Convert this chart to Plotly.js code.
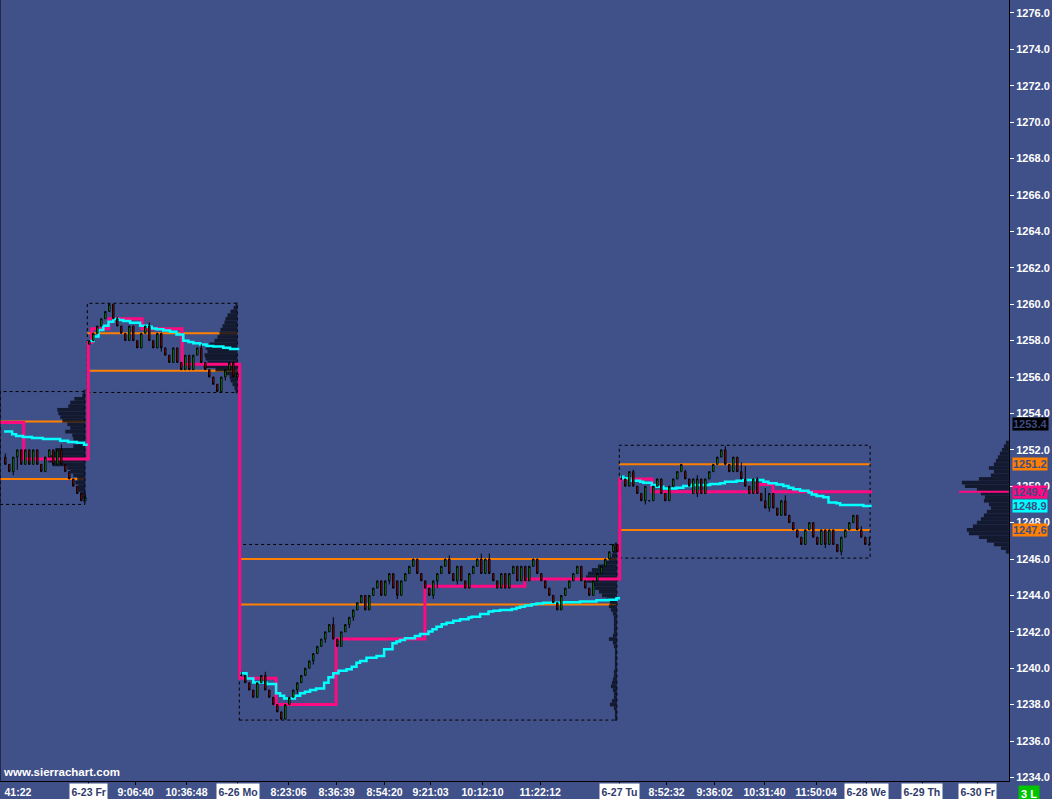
<!DOCTYPE html>
<html><head><meta charset="utf-8">
<script src="https://cdn.plot.ly/plotly-3.0.1.min.js"></script>
<style>html,body{margin:0;padding:0;background:#405088;}#chart{width:1052px;height:799px;}</style>
</head><body><div id="chart"></div>
<script>
// ---- candles [open, high, low, close] per session ----
const ohlc0622 = [
 [1251.6,1251.8,1251.2,1251.2],[1251.2,1251.2,1250.8,1250.8],[1250.8,1251.6,1250.6,1251.6],[1251.6,1252.0,1250.9,1252.0],
 [1252.0,1252.0,1251.2,1251.2],[1251.2,1252.0,1251.2,1252.0],[1252.0,1252.0,1251.2,1251.2],[1251.2,1252.0,1251.2,1252.0],
 [1252.0,1252.0,1251.2,1251.2],[1251.2,1251.2,1250.8,1250.8],[1250.8,1251.6,1250.8,1251.6],[1251.6,1252.0,1251.6,1252.0],
 [1252.0,1252.0,1251.2,1251.2],[1251.2,1252.0,1251.2,1252.0],[1252.0,1252.3,1251.2,1251.2],[1251.2,1251.2,1250.8,1250.8],
 [1250.8,1250.8,1250.4,1250.4],[1250.4,1250.4,1250.0,1250.0],[1250.0,1250.0,1249.6,1249.6],[1249.6,1249.6,1249.2,1249.2],
 [1249.2,1249.6,1249.2,1249.4]
];
const ohlc0623 = [
 [1257.8,1258.0,1257.8,1258.0],[1258.0,1258.4,1258.0,1258.4],[1258.4,1258.8,1258.4,1258.8],[1258.8,1259.2,1258.8,1259.2],
 [1259.2,1259.6,1259.2,1259.6],[1259.6,1260.0,1259.6,1260.0],[1260.0,1260.0,1259.2,1259.2],[1259.2,1259.3,1258.8,1258.8],
 [1258.8,1258.8,1258.4,1258.4],[1258.4,1258.4,1258.0,1258.0],[1258.0,1258.8,1258.0,1258.8],[1258.8,1258.8,1258.0,1258.0],
 [1258.0,1258.0,1257.6,1257.6],[1257.6,1258.4,1257.6,1258.4],[1258.4,1258.8,1258.4,1258.8],[1258.8,1259.0,1258.0,1258.0],
 [1258.0,1258.0,1257.6,1257.6],[1257.6,1258.4,1257.6,1258.4],[1258.4,1258.4,1257.4,1257.6],[1257.6,1257.6,1257.2,1257.2],
 [1257.2,1257.2,1256.8,1256.8],[1256.8,1257.6,1256.8,1257.6],[1257.6,1257.6,1256.8,1256.8],[1256.8,1256.8,1256.4,1256.4],
 [1256.4,1257.2,1256.4,1257.2],[1257.2,1257.2,1256.4,1256.4],[1256.4,1257.2,1256.4,1257.2],[1257.2,1257.6,1257.2,1257.6],
 [1257.6,1257.8,1256.8,1256.8],[1256.8,1256.8,1256.4,1256.4],[1256.4,1256.4,1256.0,1256.0],[1256.0,1256.0,1255.6,1255.6],
 [1255.6,1255.6,1255.2,1255.2],[1255.2,1256.0,1255.2,1256.0],[1256.0,1256.4,1255.8,1256.4],[1256.4,1256.8,1256.4,1256.8],
 [1256.8,1256.8,1256.0,1256.0],[1256.0,1256.2,1256.0,1256.2]
];
const ohlc0626 = [
 [1239.6,1239.8,1239.6,1239.6],[1239.6,1239.6,1239.2,1239.2],[1239.2,1239.2,1238.8,1238.8],[1238.8,1238.8,1238.4,1238.4],
 [1238.4,1239.2,1238.4,1239.2],[1239.2,1239.6,1239.2,1239.6],[1239.6,1239.8,1238.8,1238.8],[1238.8,1238.8,1238.4,1238.4],
 [1238.4,1238.4,1238.0,1238.0],[1238.0,1238.0,1237.6,1237.6],[1237.6,1237.6,1237.2,1237.2],[1237.2,1238.0,1237.2,1238.0],
 [1238.0,1238.4,1238.0,1238.4],[1238.4,1238.8,1238.4,1238.8],[1238.8,1239.2,1238.6,1239.2],[1239.2,1239.6,1239.2,1239.6],
 [1239.6,1240.0,1239.6,1240.0],[1240.0,1240.4,1240.0,1240.4],[1240.4,1240.8,1240.2,1240.8],[1240.8,1241.2,1240.8,1241.2],
 [1241.2,1241.6,1241.2,1241.6],[1241.6,1242.0,1241.4,1242.0],[1242.0,1242.4,1242.0,1242.4],[1242.4,1242.8,1241.6,1241.6],
 [1241.6,1241.6,1241.2,1241.2],[1241.2,1242.0,1241.2,1242.0],[1242.0,1242.4,1242.0,1242.4],[1242.4,1242.8,1242.2,1242.8],
 [1242.8,1243.2,1242.6,1243.2],[1243.2,1243.6,1243.2,1243.6],[1243.6,1244.0,1243.6,1244.0],[1244.0,1244.0,1243.2,1243.2],
 [1243.2,1244.0,1243.2,1244.0],[1244.0,1244.4,1244.0,1244.4],[1244.4,1244.8,1244.4,1244.8],[1244.8,1244.8,1244.0,1244.0],
 [1244.0,1244.8,1244.0,1244.8],[1244.8,1245.2,1244.6,1245.2],[1245.2,1245.2,1244.4,1244.4],[1244.8,1244.8,1243.8,1244.0],
 [1244.0,1244.8,1244.0,1244.8],[1244.8,1245.2,1244.8,1245.2],[1245.2,1245.6,1245.2,1245.6],[1245.6,1246.0,1245.6,1246.0],
 [1246.0,1246.0,1245.2,1245.2],[1245.2,1245.2,1244.8,1244.8],[1244.8,1244.8,1244.4,1244.4],[1244.4,1244.4,1244.0,1244.0],
 [1244.0,1244.8,1243.8,1244.8],[1244.8,1245.2,1244.4,1245.2],[1245.2,1245.6,1245.2,1245.6],[1245.6,1246.0,1245.6,1246.0],
 [1246.0,1246.2,1245.2,1245.2],[1245.2,1245.2,1244.8,1244.8],[1244.8,1245.6,1244.6,1245.6],[1245.6,1245.6,1244.8,1244.8],
 [1244.8,1244.8,1244.4,1244.4],[1244.4,1245.2,1244.4,1245.2],[1245.2,1245.6,1245.2,1245.6],[1245.6,1246.0,1245.6,1246.0],
 [1246.0,1246.3,1245.2,1245.2],[1245.2,1246.0,1245.2,1246.0],[1246.0,1246.3,1245.2,1245.2],[1245.2,1245.2,1244.8,1244.8],
 [1244.8,1244.8,1244.4,1244.4],[1244.4,1245.2,1244.4,1245.2],[1245.2,1245.2,1244.4,1244.4],[1244.4,1245.2,1244.4,1245.2],
 [1245.2,1245.6,1245.2,1245.6],[1245.6,1245.6,1244.8,1244.8],[1244.8,1245.6,1244.8,1245.6],[1245.6,1245.6,1244.8,1244.8],
 [1244.8,1245.6,1244.8,1245.6],[1245.6,1246.0,1245.6,1246.0],[1246.0,1246.0,1245.2,1245.2],[1245.2,1245.2,1244.8,1244.8],
 [1244.8,1244.8,1244.4,1244.4],[1244.4,1244.4,1244.0,1244.0],[1244.0,1244.0,1243.6,1243.6],[1243.6,1243.6,1243.2,1243.2],
 [1243.2,1244.0,1243.2,1244.0],[1244.0,1244.4,1244.0,1244.4],[1244.4,1244.8,1244.4,1244.8],[1244.8,1245.2,1244.8,1245.2],
 [1245.2,1245.6,1245.2,1245.6],[1245.6,1245.6,1244.8,1244.8],[1244.8,1244.8,1244.4,1244.4],[1244.4,1244.4,1244.0,1244.0],
 [1244.0,1244.8,1244.0,1244.8],[1244.8,1245.2,1244.8,1245.2],[1245.2,1245.6,1245.2,1245.6],[1245.6,1246.0,1245.6,1246.0],
 [1246.0,1246.4,1246.0,1246.4],[1246.4,1246.8,1246.4,1246.8],[1246.8,1246.8,1246.4,1246.4]
];
const ohlc0627 = [
 [1250.4,1250.6,1250.4,1250.4],[1250.4,1250.4,1250.0,1250.0],[1250.0,1250.8,1250.0,1250.8],[1250.8,1250.9,1250.0,1250.0],
 [1250.0,1250.0,1249.6,1249.6],[1249.6,1249.6,1249.2,1249.2],[1249.2,1250.0,1249.0,1250.0],[1249.2,1249.2,1249.2,1249.2],
 [1249.2,1250.0,1249.2,1250.0],[1250.0,1250.4,1250.0,1250.4],[1250.4,1250.4,1249.6,1249.6],[1249.6,1249.6,1249.2,1249.2],
 [1249.2,1250.0,1249.2,1250.0],[1250.0,1250.4,1250.0,1250.4],[1250.4,1250.8,1250.4,1250.8],[1250.8,1251.2,1250.8,1251.2],
 [1250.8,1250.9,1250.4,1250.4],[1250.4,1250.4,1250.0,1250.0],[1249.6,1250.4,1249.6,1250.4],[1249.6,1250.6,1249.4,1250.4],
 [1250.4,1250.4,1249.6,1249.6],[1249.6,1250.4,1249.6,1250.4],[1250.4,1250.8,1250.4,1250.8],[1250.8,1251.2,1250.8,1251.2],
 [1251.2,1251.6,1251.2,1251.6],[1251.6,1252.0,1251.6,1252.0],[1252.0,1252.2,1251.2,1251.2],[1251.2,1251.2,1250.8,1250.8],
 [1250.8,1251.6,1250.8,1251.6],[1251.6,1251.6,1250.8,1250.8],[1250.8,1251.3,1250.4,1250.4],[1250.4,1251.1,1250.0,1250.0],
 [1250.0,1250.0,1249.6,1249.6],[1249.6,1250.4,1249.6,1250.4],[1250.4,1250.5,1249.6,1249.6],[1249.6,1249.6,1249.2,1249.2],
 [1249.2,1249.9,1248.8,1248.8],[1248.8,1249.6,1248.6,1249.6],[1249.6,1249.6,1248.8,1248.8],[1248.8,1248.8,1248.4,1248.4],
 [1248.4,1249.2,1248.4,1249.2],[1249.2,1249.5,1248.4,1248.4],[1248.4,1248.4,1248.0,1248.0],[1248.0,1248.0,1247.6,1247.6],
 [1247.6,1247.6,1247.2,1247.2],[1247.2,1247.2,1246.8,1246.8],[1246.8,1247.6,1246.8,1247.6],[1247.6,1248.0,1247.6,1248.0],
 [1248.0,1248.0,1247.2,1247.2],[1247.2,1247.2,1246.8,1246.8],[1246.8,1247.6,1246.8,1247.6],[1247.6,1247.6,1246.6,1246.8],
 [1246.8,1247.6,1246.8,1247.6],[1247.6,1247.6,1246.8,1246.8],[1246.8,1246.8,1246.4,1246.4],[1246.4,1247.2,1246.2,1247.2],
 [1247.2,1247.6,1247.2,1247.6],[1247.6,1248.0,1247.6,1248.0],[1248.0,1248.4,1248.0,1248.4],[1248.4,1248.4,1247.6,1247.6],
 [1247.6,1247.8,1247.2,1247.2],[1247.2,1247.2,1246.8,1246.8],[1246.8,1247.2,1246.7,1246.8]
];
const sessionFirstBar = [1, 22, 60, 155];

// ---- session ranges and value areas ----
const sessionStart = [-0.3, 21.5, 59.5, 154.5];
const sessionEnd   = [20.9, 59.0, 153.9, 217.2];
const sessionHigh  = [1255.2, 1260.05, 1246.8, 1252.25];
const sessionLow   = [1249.0, 1255.15, 1237.15, 1246.05];
const vaHigh = [1253.55, 1258.4, 1246.0, 1251.2];
const vaLow  = [1250.4, 1256.35, 1243.5, 1247.6];

// ---- POC (pink) step line ----
const pocX = [-0.3, 5.6, 21.75, 22.6, 26.9, 35.2, 45.2, 59.6, 68.7, 83.7, 105.9, 130.9, 154.6, 162.7, 189.2, 192.9, 217.7];
const pocY = [1253.5, 1251.5, 1257.9, 1258.65, 1259.2, 1258.65, 1256.7, 1239.45, 1238.0, 1241.6, 1244.5, 1244.9, 1250.4, 1249.7, 1250.1, 1249.7, 1249.7];

// ---- VWAP (cyan) per session ----
const vwapX0622 = [0.7, 2.7, 3.7, 5.4, 7.7, 10.4, 14.7, 16.7, 18.9, 20.7, 21.6];
const vwapY0622 = [1253.0, 1252.85, 1252.76, 1252.7, 1252.65, 1252.6, 1252.5, 1252.43, 1252.39, 1252.28, 1252.28];
const vwapX0623 = [22.0, 23.0, 24.3, 25.5, 26.8, 28.0, 29.3, 30.5, 32.2, 34.7, 36.4, 37.6, 38.8, 40.5, 42.2, 43.8, 45.5, 46.8, 48.0, 49.7, 51.3, 53.0, 55.5, 57.2, 59.5];
const vwapY0623 = [1257.98, 1258.22, 1258.58, 1258.82, 1259.04, 1259.19, 1259.13, 1259.08, 1258.98, 1258.82, 1258.76, 1258.67, 1258.62, 1258.56, 1258.49, 1258.34, 1257.99, 1257.92, 1257.85, 1257.78, 1257.70, 1257.67, 1257.61, 1257.54, 1257.54];
const vwapX0626 = [59.7, 61.3, 63.0, 66.3, 68.7, 69.7, 70.7, 73.4, 74.7, 75.9, 77.2, 78.7, 80.7, 81.8, 83.0, 84.3, 86.3, 87.6, 88.8, 89.7, 91.3, 93.8, 95.7, 97.8, 98.8, 99.7, 100.9, 103.4, 104.7, 106.8, 107.8, 108.8, 110.1, 111.3, 113.0, 114.7, 116.8, 117.6, 119.7, 121.8, 123.0, 124.7, 127.6, 128.8, 129.7, 130.9, 132.6, 133.8, 135.5, 140.5, 144.7, 148.8, 151.8, 153.8, 154.7];
const vwapY0626 = [1239.72, 1239.44, 1239.22, 1239.13, 1238.62, 1238.49, 1238.34, 1238.49, 1238.62, 1238.71, 1238.80, 1238.89, 1239.20, 1239.50, 1239.72, 1239.86, 1239.94, 1240.08, 1240.30, 1240.39, 1240.58, 1240.67, 1241.04, 1241.37, 1241.46, 1241.55, 1241.64, 1241.77, 1241.88, 1242.01, 1242.14, 1242.28, 1242.41, 1242.50, 1242.61, 1242.69, 1242.79, 1242.83, 1242.98, 1243.11, 1243.16, 1243.20, 1243.25, 1243.32, 1243.38, 1243.45, 1243.51, 1243.56, 1243.60, 1243.62, 1243.67, 1243.73, 1243.76, 1243.84, 1243.84];
const vwapX0627 = [154.7, 155.5, 157.2, 159.7, 160.5, 162.6, 163.8, 165.5, 168.8, 170.5, 172.6, 177.2, 179.7, 180.9, 183.8, 185.5, 190.5, 191.8, 193.8, 195.5, 196.8, 198.0, 199.7, 201.8, 202.6, 203.8, 205.5, 206.8, 208.8, 209.7, 215.5, 217.6];
const vwapY0627 = [1250.52, 1250.43, 1250.30, 1250.25, 1250.19, 1250.07, 1249.97, 1249.88, 1249.92, 1250.01, 1250.07, 1250.12, 1250.16, 1250.25, 1250.30, 1250.34, 1250.25, 1250.16, 1250.10, 1250.01, 1249.92, 1249.83, 1249.75, 1249.66, 1249.55, 1249.46, 1249.39, 1249.11, 1249.06, 1248.97, 1248.91, 1248.91];

// ---- volume profiles [price, volume] ----
const prof0622 = [[1255.2,2],[1255.0,3],[1254.8,11],[1254.6,15],[1254.4,17],[1254.2,28],[1254.0,27],[1253.8,25],[1253.6,23],[1253.4,18],[1253.2,15],[1253.0,20],[1252.8,13],[1252.6,12],[1252.4,8],[1252.2,12],[1252.0,30],[1251.8,32],[1251.6,35],[1251.4,37],[1251.2,33],[1251.0,18],[1250.8,15],[1250.6,12],[1250.4,8],[1250.2,10],[1250.0,7],[1249.8,7],[1249.6,5],[1249.4,3],[1249.2,2]];
const prof0623 = [[1260.0,2],[1259.8,4],[1259.6,7],[1259.4,10],[1259.2,12],[1259.0,13],[1258.8,15],[1258.6,17],[1258.4,18],[1258.2,20],[1258.0,23],[1257.8,28],[1257.6,32],[1257.4,30],[1257.2,33],[1257.0,32],[1256.8,30],[1256.6,34],[1256.4,22],[1256.2,12],[1256.0,8],[1255.8,7],[1255.6,5],[1255.4,3],[1255.2,2]];
const prof0626 = [[1246.8,2],[1246.6,3],[1246.4,4],[1246.2,5],[1246.0,8],[1245.8,13],[1245.6,19],[1245.4,25],[1245.2,29],[1245.0,31],[1244.8,30],[1244.6,24],[1244.4,22],[1244.2,18],[1244.0,15],[1243.8,10],[1243.6,7],[1243.4,8],[1243.2,6],[1243.0,4],[1242.8,3],[1242.6,3],[1242.4,3],[1242.2,3],[1242.0,3],[1241.8,4],[1241.6,8],[1241.4,4],[1241.2,3],[1241.0,2],[1240.8,2],[1240.6,2],[1240.4,2],[1240.2,2],[1240.0,2],[1239.8,3],[1239.6,3],[1239.4,4],[1239.2,5],[1239.0,6],[1238.8,4],[1238.6,3],[1238.4,3],[1238.2,5],[1238.0,7],[1237.8,3],[1237.6,2],[1237.4,2],[1237.2,2]];
const prof0627 = [[1252.4,3],[1252.2,5],[1252.0,7],[1251.8,9],[1251.6,11],[1251.4,13],[1251.2,15],[1251.0,20],[1250.8,15],[1250.6,18],[1250.4,30],[1250.2,47],[1250.0,44],[1249.8,32],[1249.6,28],[1249.4,24],[1249.2,25],[1249.0,20],[1248.8,18],[1248.6,22],[1248.4,25],[1248.2,28],[1248.0,32],[1247.8,36],[1247.6,42],[1247.4,40],[1247.2,30],[1247.0,22],[1246.8,15],[1246.6,8],[1246.4,3]];
const profileAnchor = [21.0, 59.05, 153.9, 251.9];
const rightPoc = 1249.7;

// ---- axis / marker labels ----
const xLabelText = ['41:22','6-23 Fr','9:06:40','10:36:48','6-26 Mo','8:23:06','8:36:39','8:54:20','9:21:03','10:12:10','11:22:12','6-27 Tu','8:52:32','9:36:02','10:31:40','11:50:04','6-28 We','6-29 Th','6-30 Fr'];
const xLabelPos  = [0.2, 21.7, 33.5, 46.4, 59.1, 71.9, 83.7, 95.7, 107.4, 120.2, 134.9, 154.6, 166.3, 178.3, 190.9, 203.7, 216.4, 230.2, 244.0];
const xLabelIsDate = [false,true,false,false,true,false,false,false,false,false,false,true,false,false,false,false,true,true,true];
const priceMarkers = [1253.4, 1251.2, 1249.7, 1248.9, 1247.6];
const priceMarkerColors = ['#000000','#ff8000','#ff0a80','#00ffff','#ff8000'];

// ---- build ----
const BG = '#405088';
const FONT = 'Arial, "Liberation Sans", sans-serif';
const xRange = [-0.325, 251.925];
const yRange = [1233.802, 1276.714];
const volScale = 0.25;

const cx=[], co=[], ch=[], cl=[], cc=[];
[ohlc0622, ohlc0623, ohlc0626, ohlc0627].forEach((rows, s) => rows.forEach((r, k) => {
  cx.push(sessionFirstBar[s] + k); co.push(r[0]); ch.push(r[1]); cl.push(r[2]); cc.push(r[3]);
}));

const traces = [];
[prof0622, prof0623, prof0626, prof0627].forEach((p, s) => {
  traces.push({
    type: 'bar', orientation: 'h', xaxis: 'x', yaxis: 'y',
    y: p.map(r => r[0]), x: p.map(r => -r[1] * volScale), base: profileAnchor[s],
    width: 0.2, marker: {color: 'rgba(8,12,26,0.8)', line: {width: 0}}, hoverinfo: 'skip'
  });
});
traces.push({type: 'scatter', mode: 'lines', x: pocX, y: pocY, line: {color: '#ff0a80', width: 3, shape: 'hv'}, hoverinfo: 'skip'});
const vx = [], vy = [];
[[vwapX0622, vwapY0622], [vwapX0623, vwapY0623], [vwapX0626, vwapY0626], [vwapX0627, vwapY0627]].forEach(([a, b]) => {
  vx.push(...a, null); vy.push(...b, null);
});
traces.push({type: 'scatter', mode: 'lines', x: vx, y: vy, connectgaps: false, line: {color: '#00ffff', width: 2.5, shape: 'hv'}, hoverinfo: 'skip'});
const rMax = Math.max(...prof0627.map(r => r[1]));
traces.push({type: 'scatter', mode: 'lines', x: [profileAnchor[3] - (rMax + 3) * volScale, profileAnchor[3]], y: [rightPoc, rightPoc], line: {color: '#ff0a80', width: 2}, hoverinfo: 'skip'});
traces.push({
  type: 'candlestick', xaxis: 'x2', yaxis: 'y2', x: cx, open: co, high: ch, low: cl, close: cc,
  increasing: {line: {color: '#000000', width: 1}, fillcolor: '#00e400'},
  decreasing: {line: {color: '#000000', width: 1}, fillcolor: '#e40000'},
  whiskerwidth: 0, hoverinfo: 'skip'
});

const shapes = [];
for (let s = 0; s < 4; s++) {
  shapes.push({type: 'line', layer: 'below', xref: 'x', yref: 'y', x0: sessionStart[s], x1: sessionEnd[s], y0: vaHigh[s], y1: vaHigh[s], line: {color: '#ff8000', width: 2}});
  shapes.push({type: 'line', layer: 'below', xref: 'x', yref: 'y', x0: sessionStart[s], x1: sessionEnd[s], y0: vaLow[s], y1: vaLow[s], line: {color: '#ff8000', width: 2}});
  shapes.push({type: 'rect', layer: 'below', xref: 'x', yref: 'y', x0: sessionStart[s], x1: sessionEnd[s], y0: sessionLow[s], y1: sessionHigh[s], line: {color: '#000000', width: 1, dash: '3px,3px'}, fillcolor: 'rgba(0,0,0,0)'});
}
shapes.push({type: 'line', xref: 'paper', yref: 'paper', x0: 0, x1: 0, y0: 0, y1: 1, line: {color: '#000000', width: 1}});

const annotations = [];
xLabelText.forEach((t, k) => {
  const d = xLabelIsDate[k];
  annotations.push({
    xref: 'x', yref: 'paper', x: xLabelPos[k], y: 0, yanchor: 'top', yshift: -2,
    xanchor: k === 0 ? 'left' : 'center', text: t, showarrow: false,
    font: {family: FONT, size: 10.5, color: d ? '#2e3a6c' : '#ffffff', weight: 'bold'},
    bgcolor: d ? '#ffffff' : 'rgba(0,0,0,0)', borderpad: 1.5
  });
});
priceMarkers.forEach((p, k) => {
  annotations.push({
    xref: 'paper', yref: 'y', x: 1, y: p, xanchor: 'left', yanchor: 'middle', xshift: 3,
    text: p.toFixed(1), showarrow: false, bgcolor: priceMarkerColors[k], borderpad: 0,
    font: {family: FONT, size: 11, color: '#3d4c85', weight: 'bold'}
  });
});
annotations.push({xref: 'paper', yref: 'paper', x: 0, y: 0, xanchor: 'left', yanchor: 'bottom', yshift: 1, xshift: 1,
  text: 'www.sierrachart.com', showarrow: false, font: {family: FONT, size: 11.5, color: '#ffffff', weight: 'bold'}});
annotations.push({xref: 'paper', yref: 'paper', x: 1, y: 0, xanchor: 'left', yanchor: 'top', xshift: 9, yshift: -4,
  text: '3 L', showarrow: false, bgcolor: '#00c400', borderpad: 2, font: {family: FONT, size: 11, color: '#ffffff', weight: 'bold'}});

const layout = {
  width: 1052, height: 799,
  margin: {l: 0, r: 43, t: 0, b: 18, pad: 0},
  paper_bgcolor: BG, plot_bgcolor: BG,
  showlegend: false, hovermode: false, barmode: 'overlay', boxgap: 0.5,
  xaxis: {range: xRange, showgrid: false, zeroline: false, showline: true, linecolor: '#000000', linewidth: 1,
    tickvals: xLabelPos.slice(1), ticks: 'outside', ticklen: 3, tickcolor: '#000000', showticklabels: false,
    rangeslider: {visible: false}, fixedrange: true},
  yaxis: {range: yRange, side: 'right', showgrid: false, zeroline: false, showline: true, linecolor: '#000000', linewidth: 1,
    tick0: 0, dtick: 2, tickformat: '.1f', ticks: 'outside', ticklen: 4, tickcolor: '#ffffff',
    tickfont: {family: FONT, size: 11, color: '#ffffff', weight: 'bold'}, fixedrange: true},
  xaxis2: {overlaying: 'x', range: xRange, visible: false, rangeslider: {visible: false}, fixedrange: true},
  yaxis2: {overlaying: 'y', range: yRange, visible: false, fixedrange: true},
  shapes: shapes, annotations: annotations
};

Plotly.newPlot('chart', traces, layout, {staticPlot: true, displayModeBar: false});
</script></body></html>
